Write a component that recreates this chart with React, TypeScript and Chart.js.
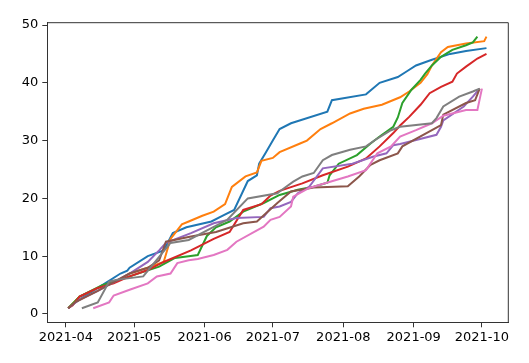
import React, { useEffect, useRef } from "react";
import { Chart, registerables } from "chart.js";

Chart.register(...registerables);

// x values: days since 2021-04-01
const monthTickDays = [0, 30, 61, 91, 122, 153, 183];
const monthTickLabels = ["2021-04", "2021-05", "2021-06", "2021-07", "2021-08", "2021-09", "2021-10"];
const yTickValues = [0, 10, 20, 30, 40, 50];

const blueSeries: [number, number][] = [
  [1, 1], [4, 2], [12, 4], [16, 5], [24, 7], [27, 7.5], [28, 8], [36, 10], [43, 11], [47, 14],
  [53, 15], [64, 16], [69, 17], [74, 18], [80, 23], [84, 24], [85, 26], [88, 28], [91, 30],
  [94, 32], [99, 33], [115, 35], [117, 37], [132, 38], [138, 40], [146, 41], [150, 42],
  [154, 43], [161, 44], [169, 45], [176, 45.5], [185, 46],
];
const orangeSeries: [number, number][] = [
  [1, 1], [6, 3], [14, 4.5], [24, 6], [28, 7], [36, 8], [43, 9], [46, 13], [51, 15.5], [54, 16],
  [60, 17], [65, 17.7], [70, 19], [73, 22], [79, 23.8], [84, 24.5], [86, 26.5], [91, 27],
  [94, 28], [103, 29.5], [106, 30], [112, 32], [117, 33], [125, 34.7], [131, 35.5], [139, 36.2],
  [147, 37.5], [151, 38.5], [156, 40], [159, 41.5], [161, 43], [165, 45.3], [168, 46.2],
  [176, 46.8], [184, 47.2], [185, 48],
];
const greenSeries: [number, number][] = [
  [1, 1], [6, 3], [16, 5], [28, 6.5], [41, 8.2], [48, 9.7], [54, 10], [58, 10.2], [62, 13.5],
  [66, 15], [72, 16], [78, 17.7], [87, 19.2], [94, 20.6], [102, 21.5], [109, 22], [115, 22.7],
  [116, 24], [120, 26], [128, 27.5], [134, 29.5], [138, 30.7], [144, 32.4], [146, 34],
  [148, 36.5], [152, 38.8], [156, 40.5], [158, 41.6], [161, 43], [165, 44.5], [170, 45.7],
  [176, 46.5], [179, 47], [181, 48],
];
const redSeries: [number, number][] = [
  [1, 1], [3, 1.5], [6, 3], [14, 4.5], [21, 5.3], [28, 6.5], [36, 7.6], [43, 9], [55, 11],
  [65, 13], [72, 14.2], [78, 18], [86, 19], [90, 20.5], [94, 21.3], [104, 22.6], [113, 24],
  [124, 25.5], [132, 26.9], [138, 29], [144, 31.3], [147, 32.6], [151, 34.1], [156, 36.2],
  [160, 38.2], [165, 39.3], [170, 40.2], [172, 41.6], [176, 42.8], [181, 44.2], [185, 45],
];
const purpleSeries: [number, number][] = [
  [1, 1], [6, 2.5], [14, 4], [21, 5.5], [28, 7], [36, 9], [41, 11], [44, 12.3], [55, 14],
  [65, 15.7], [75, 16.6], [87, 16.8], [90, 18.3], [94, 18.6], [99, 19.4], [102, 20.9],
  [107, 22], [113, 25.2], [126, 26], [135, 27.2], [141, 27.8], [144, 29.2], [147, 29.4],
  [151, 29.8], [163, 31], [165, 32.4], [166, 33.5], [175, 35.9], [179, 37.6], [182, 39],
];
const brownSeries: [number, number][] = [
  [1, 1], [4, 2], [14, 4], [21, 5.5], [28, 7], [36, 8], [41, 9.3], [44, 12.5], [55, 13.4],
  [66, 14.2], [78, 15.7], [84, 16], [93, 19.2], [99, 21.2], [109, 21.9], [124, 22.1],
  [129, 23.8], [134, 25.8], [138, 26.6], [146, 27.8], [148, 29], [161, 31.8], [165, 32.7],
  [166, 34.5], [176, 36.5], [180, 37], [182, 39],
];
const pinkSeries: [number, number][] = [
  [12, 1], [19, 2], [21, 3.2], [28, 4.2], [36, 5.3], [40, 6.5], [46, 7], [49, 8.8], [54, 9.3],
  [58, 9.5], [65, 10.2], [71, 11.1], [75, 12.5], [87, 15.1], [90, 16.3], [94, 16.8],
  [99, 18.6], [100, 20.3], [107, 21.8], [124, 23.8], [132, 24.9], [137, 27.8], [143, 29],
  [147, 30.7], [154, 31.8], [161, 33], [166, 34.3], [176, 35.3], [181, 35.3], [183, 39],
];
const graySeries: [number, number][] = [
  [7, 1], [14, 2], [19, 5.6], [22, 5.9], [34, 6.5], [41, 9.9], [46, 12.3], [54, 12.8],
  [71, 16.3], [80, 20], [93, 20.9], [94, 21.2], [100, 22.9], [104, 23.8], [109, 24.4],
  [113, 26.6], [117, 27.5], [125, 28.4], [132, 29], [136, 30.1], [143, 31.8], [147, 32.4],
  [161, 33], [163, 33.9], [166, 35.9], [173, 37.6], [179, 38.5], [182, 39],
];

const seriesList = [blueSeries, orangeSeries, greenSeries, redSeries, purpleSeries, brownSeries, pinkSeries, graySeries];
const seriesColors = ["#1f77b4", "#ff7f0e", "#2ca02c", "#d62728", "#9467bd", "#8c564b", "#e377c2", "#7f7f7f"];

const FONT = { family: "'DejaVu Sans', sans-serif", size: 13 };

const boxPlugin = {
  id: "boxSpines",
  afterDraw(chart: any) {
    const { ctx, chartArea } = chart;
    ctx.save();
    ctx.strokeStyle = "#333";
    ctx.lineWidth = 1;
    ctx.beginPath();
    ctx.moveTo(chartArea.left, chartArea.top);
    ctx.lineTo(chartArea.right, chartArea.top);
    ctx.lineTo(chartArea.right, chartArea.bottom);
    ctx.stroke();
    ctx.restore();
  },
};

export default function App() {
  const ref = useRef<HTMLCanvasElement | null>(null);
  useEffect(() => {
    if (!ref.current) return;
    const n = seriesList.length;
    const chart = new Chart(ref.current, {
      type: "line",
      data: {
        datasets: seriesList.map((s, i) => ({
          data: s.map(([x, y]) => ({ x, y })),
          borderColor: seriesColors[i],
          backgroundColor: seriesColors[i],
          borderWidth: 2,
          pointRadius: 0,
          tension: 0,
          fill: false,
          order: n - 1 - i,
        })),
      },
      options: {
        animation: false,
        responsive: true,
        maintainAspectRatio: false,
        layout: { padding: { top: 22.7, right: 20.7, left: 0, bottom: 0 } },
        plugins: { legend: { display: false }, tooltip: { enabled: false } },
        scales: {
          x: {
            type: "linear",
            min: -8.2,
            max: 194.6,
            afterBuildTicks: (scale: any) => {
              scale.ticks = monthTickDays.map((v) => ({ value: v }));
            },
            afterFit: (scale: any) => {
              scale.height = 40.7;
            },
            ticks: {
              autoSkip: false,
              maxRotation: 0,
              padding: 3,
              color: "#000",
              font: FONT,
              callback: (v: any) => {
                const idx = monthTickDays.indexOf(Number(v));
                return idx >= 0 ? monthTickLabels[idx] : "";
              },
            },
            grid: { drawOnChartArea: false, drawTicks: true, tickLength: 5, color: "#333", tickWidth: 1 },
            border: { display: true, color: "#333", width: 1 },
          },
          y: {
            type: "linear",
            min: -1.44,
            max: 50.4,
            afterBuildTicks: (scale: any) => {
              scale.ticks = yTickValues.map((v) => ({ value: v }));
            },
            afterFit: (scale: any) => {
              scale.width = 47.3;
            },
            ticks: { padding: 4, color: "#000", font: FONT },
            grid: { drawOnChartArea: false, drawTicks: true, tickLength: 5, color: "#333", tickWidth: 1 },
            border: { display: true, color: "#333", width: 1 },
          },
        },
      },
      plugins: [boxPlugin],
    } as any);
    return () => chart.destroy();
  }, []);
  return (
    <div style={{ position: "fixed", left: 0, top: 0, width: 529, height: 363, background: "#fff" }}>
      <canvas ref={ref} />
    </div>
  );
}
